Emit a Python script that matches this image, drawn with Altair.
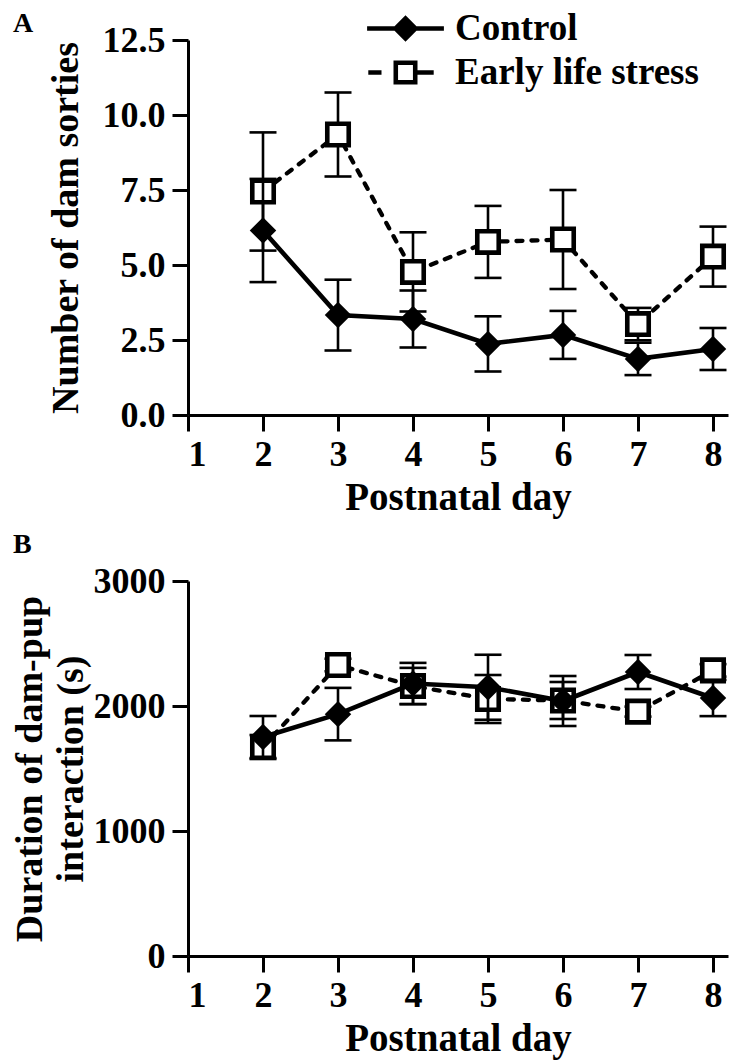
import altair as alt
import pandas as pd

# ---------------- data ----------------
days = [2, 3, 4, 5, 6, 7, 8]
groups = ["Control", "Early life stress"]
panel_labels = ["A", "B"]

# Panel A: number of dam sorties
sorties_control_mean = [6.15, 3.33, 3.20, 2.37, 2.67, 1.87, 2.20]
sorties_control_sem = [1.72, 1.18, 0.95, 0.92, 0.80, 0.54, 0.70]
sorties_els_mean = [7.45, 9.35, 4.77, 5.77, 5.85, 3.03, 5.28]
sorties_els_sem = [1.97, 1.40, 1.32, 1.20, 1.65, 0.54, 1.00]

# Panel B: duration of dam-pup interaction (s)
duration_control_mean = [1752, 1935, 2180, 2150, 2040, 2272, 2064]
duration_control_sem = [168, 210, 165, 260, 200, 136, 145]
duration_els_mean = [1672, 2328, 2160, 2056, 2044, 1955, 2285]
duration_els_sem = [96, 50, 145, 192, 148, 40, 50]

x_ticks = [1, 2, 3, 4, 5, 6, 7, 8]
a_ticks = [0, 2.5, 5.0, 7.5, 10.0, 12.5]
b_ticks = [0, 1000, 2000, 3000]

FONT = "Liberation Serif"

# legend symbols (unit = half of sqrt(size)): line + marker drawn as filled paths
CTRL_SYM = ("M-3.2,-0.19 L3.2,-0.19 L3.2,0.19 L-3.2,0.19 Z "
            "M0,-1.1 L1.1,0 L0,1.1 L-1.1,0 Z")
ELS_SYM = ("M-3.1,-0.18 L-2.0,-0.18 L-2.0,0.18 L-3.1,0.18 Z "
           "M1.0,-0.18 L2.35,-0.18 L2.35,0.18 L1.0,0.18 Z "
           "M-1.0,-1.0 L1.0,-1.0 L1.0,1.0 L-1.0,1.0 Z "
           "M-0.62,-0.62 L-0.62,0.62 L0.62,0.62 L0.62,-0.62 Z")


def make_df(cm, cs, em, es):
    rows = []
    for g, m, s in [("Control", cm, cs), ("Early life stress", em, es)]:
        for d, mv, sv in zip(days, m, s):
            rows.append({"group": g, "day": d, "mean": mv,
                         "lo": mv - sv, "hi": mv + sv})
    return pd.DataFrame(rows)


def panel(df, ydomain, yticks, yfmt, ytitle, label, label_y, legend, yaxis_extra):
    xs = alt.X("day:Q", scale=alt.Scale(domain=[1, 8.2], nice=False, zero=False),
               axis=alt.Axis(values=x_ticks, format="d", title="Postnatal day"))
    ys = alt.Y("mean:Q", scale=alt.Scale(domain=ydomain, nice=False),
               axis=alt.Axis(values=yticks, format=yfmt, title=ytitle, **yaxis_extra))
    base = alt.Chart(df)
    layers = []
    for g in ["Early life stress", "Control"]:
        sub = base.transform_filter(alt.datum.group == g)
        layers.append(sub.mark_rule(color="black", strokeWidth=2.6).encode(
            x=xs, y=alt.Y("lo:Q"), y2="hi:Q"))
        caps = sub.transform_fold(["lo", "hi"], as_=["which", "val"])
        layers.append(caps.mark_tick(orient="horizontal", color="black", size=27,
                                     thickness=2.6, opacity=1).encode(
            x=xs, y=alt.Y("val:Q")))
        if g == "Control":
            layers.append(sub.mark_line(color="black", strokeWidth=4.6).encode(x=xs, y=ys))
            layers.append(sub.mark_point(shape="diamond", filled=True, color="black",
                                         size=700, opacity=1).encode(x=xs, y=ys))
        else:
            layers.append(sub.mark_line(color="black", strokeWidth=4.3,
                                        strokeDash=[6, 9], strokeCap="round").encode(x=xs, y=ys))
            layers.append(sub.mark_point(shape="square", fill="white", stroke="black",
                                         strokeWidth=4.6, size=460, opacity=1,
                                         filled=False).encode(x=xs, y=ys))
    lab = pd.DataFrame({"t": [label]})
    layers.append(alt.Chart(lab).mark_text(font=FONT, fontWeight="bold", fontSize=28,
                                           align="left", baseline="top", color="black").encode(
        text="t:N", x=alt.value(-175), y=alt.value(label_y)))
    if legend:
        leg = base.transform_filter("false").mark_point(
            filled=True, color="black", opacity=1, size=576).encode(
            x=xs, y=ys,
            shape=alt.Shape("group:N",
                            scale=alt.Scale(domain=groups, range=[CTRL_SYM, ELS_SYM]),
                            legend=alt.Legend(title=None, orient="none", legendX=199,
                                              legendY=-30, symbolSize=576,
                                              symbolFillColor="black",
                                              symbolStrokeWidth=0, symbolOpacity=1,
                                              labelFont=FONT, labelFontSize=37,
                                              labelFontWeight="bold", labelColor="black",
                                              labelOffset=31, rowPadding=6,
                                              labelLimit=400)))
        layers.append(leg)
    return alt.layer(*layers).properties(width=540, height=375)


df_a = make_df(sorties_control_mean, sorties_control_sem, sorties_els_mean, sorties_els_sem)
df_b = make_df(duration_control_mean, duration_control_sem, duration_els_mean, duration_els_sem)

pa = panel(df_a, [0, 12.5], a_ticks, ".1f", "Number of dam sorties", panel_labels[0],
           -30, True, {"titlePadding": 17})
pb = panel(df_b, [0, 3000], b_ticks, "d", ["Duration of dam-pup", "interaction (s)"],
           panel_labels[1], -50, False, {"titleX": -139, "titleY": 187.5})

chart = alt.vconcat(pa, pb, spacing=14).properties(
    padding={"left": 2, "top": 2, "right": 2, "bottom": 2}).configure_view(
    stroke=None).configure_axis(
    grid=False, domainColor="black", domainWidth=3, tickColor="black", tickWidth=3,
    tickSize=16, labelFont=FONT, labelFontSize=36, labelFontWeight="bold",
    labelColor="black", titleFont=FONT, titleFontSize=38, titleFontWeight="bold",
    titleColor="black", labelPadding=7, titleLineHeight=41
).configure_axisX(labelPadding=6, titlePadding=6, titleFontSize=39)

chart.save("out.html", embed_options={"renderer": "svg", "actions": False})
